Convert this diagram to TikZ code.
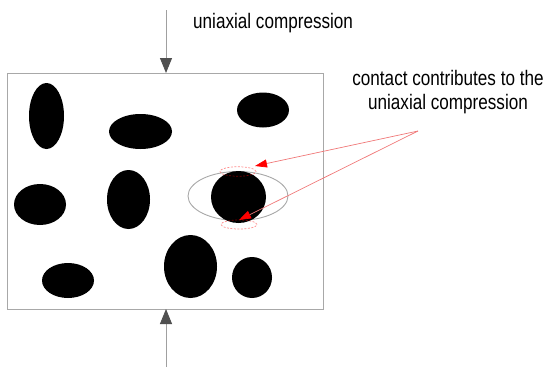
\documentclass[tikz,border=0pt]{standalone}
\usepackage{fontspec}
\setmainfont{Liberation Sans}[FakeStretch=0.815]
\usetikzlibrary{arrows.meta,shapes.geometric}

\definecolor{boxgray}{HTML}{A8A8A8}
\definecolor{loadgray}{HTML}{A0A0A0}
\definecolor{headgray}{HTML}{505050}
\definecolor{notered}{HTML}{F07878}

\tikzset{
  frame/.style={draw=boxgray, line width=0.9pt, inner sep=0, outer sep=0},
  grain/.style={ellipse, fill=black, inner sep=0, outer sep=0},
  zone/.style={ellipse, draw=boxgray, line width=0.9pt, inner sep=0},
  contact/.style={ellipse, draw=red, draw opacity=0.45, line width=0.7pt,
                  dash pattern=on 2pt off 1.5pt, inner sep=0},
  load/.style={draw=loadgray, line width=0.9pt,
               -{Triangle[width=12pt,length=15pt,color=headgray]}},
  note/.style={draw=notered, line width=0.7pt,
               -{Triangle[width=8pt,length=12pt,color=red]}},
  caption/.style={font=\fontsize{21}{24.3}\selectfont, inner sep=0},
}

\begin{document}
\begin{tikzpicture}[x=1pt,y=-1pt]
\useasboundingbox (0,0) rectangle (545,367);

% specimen outline
\node[frame, minimum width=316pt, minimum height=236pt] (sample) at (165,191) {};

% grains
\node[grain, minimum width=35pt, minimum height=66pt] (g1) at (46.5,116) {};
\node[grain, minimum width=63pt, minimum height=35pt] (g2) at (140.5,131.5) {};
\node[grain, minimum width=52pt, minimum height=35pt] (g3) at (263,110) {};
\node[grain, minimum width=52pt, minimum height=41pt] (g4) at (40,204.5) {};
\node[grain, minimum width=43pt, minimum height=59pt] (g5) at (128.5,199.5) {};
\node[grain, minimum width=52pt, minimum height=35pt] (g6) at (68,280.5) {};
\node[grain, minimum width=53pt, minimum height=63pt] (g7) at (190.5,266.5) {};
\node[grain, minimum width=40pt, minimum height=41pt] (g8) at (252,277.5) {};

% highlighted grain with its neighbourhood and contact zones
\node[zone, minimum width=100pt, minimum height=49pt] (hood) at (238,196) {};
\node[grain, minimum width=55pt, minimum height=52pt] (focus) at (238.5,197) {};
\node[contact, minimum width=36pt, minimum height=9.5pt] (ctop) at (238,171.5) {};
\node[contact, minimum width=36pt, minimum height=9pt] (cbot) at (239,224.5) {};

% loading arrows
\coordinate (topload) at (166,10);
\coordinate (botload) at (166,367);
\draw[load] (topload) -- (topload |- sample.north);
\draw[load] (botload) -- (botload |- sample.south);

% labels
\node[caption, anchor=base west] (title) at (193,28.3) {uniaxial compression};
\node[caption, align=center, anchor=base] (remark) at (448,109.3)
  {contact contributes to the\\uniaxial compression};

% pointers to the contacts
\coordinate (src) at (418,131);
\coordinate (tipA) at (255,166);
\coordinate (tipB) at (239,220);
\draw[note] (src) -- (tipA);
\draw[note] (src) -- (tipB);
\end{tikzpicture}
\end{document}
